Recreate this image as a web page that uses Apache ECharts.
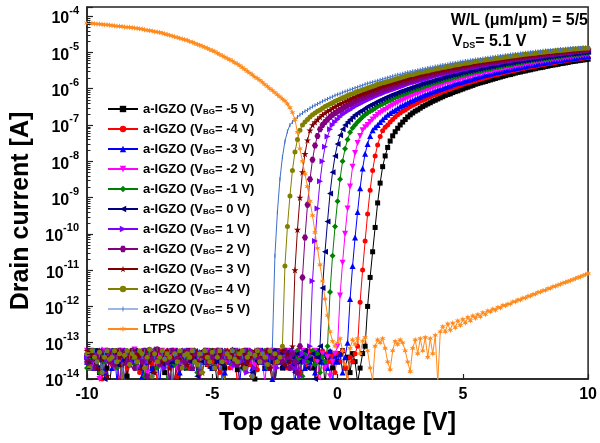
<!DOCTYPE html>
<html>
<head>
<meta charset="utf-8">
<script src="https://cdn.jsdelivr.net/npm/echarts@6/dist/echarts.min.js"></script>
<style>
html, body { margin: 0; padding: 0; background: #fff; }
#chart { width: 600px; height: 443px; }
</style>
</head>
<body>
<div id="chart"></div>
<script>
// top gate voltage sweep: -10 V .. 10 V, 0.1 V step
const vgs = [];
for (let i = 0; i <= 200; i++) vgs.push(Math.round((-10 + i * 0.1) * 10) / 10);

// drain current [A], one value per gate voltage step
const idBgM5 = [
  4e-14,2e-14,5e-14,3e-14,6e-14,1.5e-14,4e-14,5e-14,2e-14,7e-15,
  3e-14,6e-14,4e-14,2.5e-14,5e-14,3e-14,1.2e-14,4.5e-14,6e-14,3e-14,
  2e-14,5e-14,4e-14,8e-15,3.5e-14,5.5e-14,2e-14,4e-14,6.5e-14,3e-14,
  4e-14,1.5e-14,5e-14,3e-14,6e-14,2.5e-14,4e-14,9e-15,5e-14,3.5e-14,
  2e-14,6e-14,4e-14,3e-14,5e-14,1.5e-14,4.5e-14,5.5e-14,2.5e-14,4e-14,
  6e-14,3e-14,7e-15,5e-14,4e-14,2e-14,5.5e-14,3e-14,6e-14,4e-14,
  1.8e-14,5e-14,3.5e-14,6e-14,2.5e-14,4e-14,5e-14,1e-14,3e-14,6e-14,
  4e-14,2e-14,5e-14,3.5e-14,8e-15,4.5e-14,6e-14,3e-14,2e-14,5e-14,
  4e-14,6e-14,2.5e-14,5e-14,3e-14,1.5e-14,4e-14,6e-14,3.5e-14,5e-14,
  2e-14,4e-14,6e-14,3e-14,5e-14,7e-15,4e-14,5.5e-14,2e-14,4e-14,
  3e-14,5e-14,6e-14,2e-14,4e-14,1.5e-14,5e-14,3e-14,8e-15,2e-14,5e-14,
  8e-14,1e-12,6.3e-12,3.2e-11,1.5e-10,7.1e-10,2.5e-9,7.1e-9,1.4e-8,2.4e-8,3.6e-8,5e-8,6.5e-8,8.1e-8,
  1e-7,1.2e-7,1.41e-7,1.66e-7,1.9e-7,2.14e-7,2.4e-7,2.6e-7,2.9e-7,3.2e-7,
  3.5e-7,3.8e-7,4.1e-7,4.5e-7,4.8e-7,5.2e-7,5.6e-7,6e-7,6.5e-7,6.9e-7,
  7.2e-7,7.8e-7,8.3e-7,8.7e-7,9.3e-7,9.8e-7,1.05e-6,1.1e-6,1.17e-6,1.23e-6,
  1.32e-6,1.38e-6,1.45e-6,1.51e-6,1.58e-6,1.66e-6,1.74e-6,1.82e-6,1.91e-6,2e-6,
  2.09e-6,2.19e-6,2.29e-6,2.4e-6,2.45e-6,2.57e-6,2.69e-6,2.82e-6,2.88e-6,3.02e-6,
  3.09e-6,3.24e-6,3.31e-6,3.47e-6,3.55e-6,3.72e-6,3.8e-6,3.89e-6,4.07e-6,4.17e-6,
  4.37e-6,4.47e-6,4.57e-6,4.68e-6,4.9e-6,5e-6,5.13e-6,5.25e-6,5.5e-6,5.62e-6,
  5.75e-6,5.89e-6,6.03e-6,6.17e-6,6.31e-6,6.46e-6
];
const idBgM4 = [
  5e-14,3e-14,6e-14,2e-14,4e-14,5.5e-14,1e-14,3.5e-14,6e-14,4e-14,
  2.5e-14,5e-14,3e-14,7e-15,4.5e-14,6e-14,2e-14,4e-14,5e-14,3e-14,
  6e-14,1.5e-14,4e-14,5e-14,3e-14,6.5e-14,2.5e-14,4e-14,8e-15,5e-14,
  3e-14,4.5e-14,6e-14,2e-14,5e-14,3.5e-14,1.2e-14,4e-14,6e-14,3e-14,
  5e-14,2e-14,4e-14,6e-14,3e-14,9e-15,5e-14,4e-14,2.5e-14,5.5e-14,
  3e-14,6e-14,4e-14,1.5e-14,5e-14,3e-14,6e-14,2e-14,4.5e-14,5e-14,
  7e-15,4e-14,6e-14,3e-14,5e-14,2.5e-14,4e-14,5.5e-14,1.8e-14,3.5e-14,
  6e-14,4e-14,2e-14,5e-14,3e-14,8e-15,4.5e-14,6e-14,3e-14,5e-14,
  2e-14,4e-14,5.5e-14,3e-14,6e-14,1.5e-14,4e-14,5e-14,2.5e-14,6e-14,
  3.5e-14,5e-14,7e-15,4e-14,6e-14,2e-14,5e-14,3e-14,4.5e-14,1.5e-14,
  5e-14,3e-14,6e-14,2e-14,9e-15,4e-14,3e-14,5e-14,
  8e-14,1.3e-12,1e-11,6.3e-11,3.5e-10,1.6e-9,5.6e-9,1.4e-8,2.8e-8,4.8e-8,6.9e-8,8.7e-8,
  1e-7,1.2e-7,1.41e-7,1.66e-7,1.9e-7,2.14e-7,2.4e-7,2.6e-7,2.9e-7,3.2e-7,
  3.5e-7,3.8e-7,4.1e-7,4.5e-7,4.8e-7,5.2e-7,5.6e-7,6e-7,6.5e-7,6.9e-7,
  7.2e-7,7.8e-7,8.3e-7,8.7e-7,9.3e-7,9.8e-7,1.05e-6,1.1e-6,1.17e-6,1.23e-6,
  1.32e-6,1.38e-6,1.45e-6,1.51e-6,1.58e-6,1.66e-6,1.74e-6,1.82e-6,1.91e-6,2e-6,
  2.09e-6,2.19e-6,2.29e-6,2.4e-6,2.45e-6,2.57e-6,2.69e-6,2.82e-6,2.88e-6,3.02e-6,
  3.09e-6,3.24e-6,3.31e-6,3.47e-6,3.55e-6,3.72e-6,3.8e-6,3.89e-6,4.07e-6,4.17e-6,
  4.37e-6,4.47e-6,4.57e-6,4.68e-6,4.9e-6,5e-6,5.13e-6,5.25e-6,5.5e-6,5.62e-6,
  5.75e-6,5.89e-6,6.03e-6,6.17e-6,6.31e-6,6.46e-6,6.61e-6,6.76e-6,6.92e-6,7.08e-6,
  7.24e-6
];
const idBgM3 = [
  3e-14,6e-14,4e-14,2e-14,5e-14,3.5e-14,6.5e-14,1.5e-14,4e-14,5e-14,
  2e-14,4.5e-14,8e-15,5.5e-14,3e-14,6e-14,4e-14,2.5e-14,5e-14,3e-14,
  6e-14,4e-14,1.2e-14,5e-14,3e-14,6e-14,2e-14,4e-14,5.5e-14,7e-15,
  4e-14,5e-14,3e-14,6e-14,2.5e-14,4.5e-14,5e-14,1.5e-14,3.5e-14,6e-14,
  3e-14,5e-14,2e-14,4e-14,6e-14,9e-15,5e-14,3e-14,4e-14,6e-14,
  2e-14,5.5e-14,3.5e-14,6e-14,4e-14,1.5e-14,5e-14,3e-14,6.5e-14,2.5e-14,
  4e-14,8e-15,5e-14,3e-14,6e-14,4.5e-14,2e-14,5e-14,4e-14,3e-14,
  6e-14,2e-14,5e-14,3.5e-14,1e-14,4e-14,6e-14,3e-14,5e-14,2.5e-14,
  4e-14,5.5e-14,3e-14,7e-15,5e-14,4e-14,6e-14,2e-14,4.5e-14,3e-14,
  5e-14,1.5e-14,6e-14,4e-14,3e-14,5e-14,2e-14,6e-14,8e-15,4e-14,
  3e-14,5e-14,1.5e-14,4e-14,
  1e-13,1.6e-12,1.3e-11,7.9e-11,4e-10,1.8e-9,6.3e-9,1.6e-8,3e-8,5e-8,7.1e-8,8.7e-8,
  1e-7,1.2e-7,1.41e-7,1.66e-7,1.9e-7,2.14e-7,2.4e-7,2.6e-7,2.9e-7,3.2e-7,
  3.5e-7,3.8e-7,4.1e-7,4.5e-7,4.8e-7,5.2e-7,5.6e-7,6e-7,6.5e-7,6.9e-7,
  7.2e-7,7.8e-7,8.3e-7,8.7e-7,9.3e-7,9.8e-7,1.05e-6,1.1e-6,1.17e-6,1.23e-6,
  1.32e-6,1.38e-6,1.45e-6,1.51e-6,1.58e-6,1.66e-6,1.74e-6,1.82e-6,1.91e-6,2e-6,
  2.09e-6,2.19e-6,2.29e-6,2.4e-6,2.45e-6,2.57e-6,2.69e-6,2.82e-6,2.88e-6,3.02e-6,
  3.09e-6,3.24e-6,3.31e-6,3.47e-6,3.55e-6,3.72e-6,3.8e-6,3.89e-6,4.07e-6,4.17e-6,
  4.37e-6,4.47e-6,4.57e-6,4.68e-6,4.9e-6,5e-6,5.13e-6,5.25e-6,5.5e-6,5.62e-6,
  5.75e-6,5.89e-6,6.03e-6,6.17e-6,6.31e-6,6.46e-6,6.61e-6,6.76e-6,6.92e-6,7.08e-6,
  7.24e-6,7.41e-6,7.59e-6,7.76e-6,7.94e-6
];
const idBgM2 = [
  6e-14,4e-14,2.5e-14,5e-14,3e-14,1e-14,4.5e-14,6e-14,3e-14,5e-14,
  4e-14,2e-14,5.5e-14,3.5e-14,6e-14,8e-15,4e-14,5e-14,3e-14,6.5e-14,
  2e-14,4e-14,5e-14,3e-14,1.5e-14,6e-14,4e-14,5e-14,2.5e-14,4.5e-14,
  6e-14,3e-14,5e-14,7e-15,4e-14,6e-14,2e-14,5.5e-14,3e-14,4e-14,
  5e-14,2.5e-14,6e-14,4e-14,3.5e-14,1.2e-14,5e-14,3e-14,6e-14,4e-14,
  2e-14,5e-14,4e-14,6e-14,9e-15,3e-14,5.5e-14,4.5e-14,2e-14,6e-14,
  3.5e-14,5e-14,4e-14,1.5e-14,6e-14,3e-14,5e-14,2.5e-14,4e-14,6e-14,
  3e-14,8e-15,5e-14,4e-14,6e-14,2e-14,4.5e-14,5.5e-14,3e-14,4e-14,
  6e-14,2.5e-14,5e-14,3e-14,1.5e-14,4e-14,6e-14,3.5e-14,5e-14,2e-14,
  4e-14,6e-14,3e-14,7e-15,5e-14,2e-14,4e-14,1.2e-14,3e-14,5e-14,
  8e-14,2e-12,1.6e-11,1e-10,5e-10,2e-9,7.1e-9,1.7e-8,3.2e-8,5e-8,7.1e-8,8.7e-8,
  1e-7,1.2e-7,1.41e-7,1.66e-7,1.9e-7,2.14e-7,2.4e-7,2.6e-7,2.9e-7,3.2e-7,
  3.5e-7,3.8e-7,4.1e-7,4.5e-7,4.8e-7,5.2e-7,5.6e-7,6e-7,6.5e-7,6.9e-7,
  7.2e-7,7.8e-7,8.3e-7,8.7e-7,9.3e-7,9.8e-7,1.05e-6,1.1e-6,1.17e-6,1.23e-6,
  1.32e-6,1.38e-6,1.45e-6,1.51e-6,1.58e-6,1.66e-6,1.74e-6,1.82e-6,1.91e-6,2e-6,
  2.09e-6,2.19e-6,2.29e-6,2.4e-6,2.45e-6,2.57e-6,2.69e-6,2.82e-6,2.88e-6,3.02e-6,
  3.09e-6,3.24e-6,3.31e-6,3.47e-6,3.55e-6,3.72e-6,3.8e-6,3.89e-6,4.07e-6,4.17e-6,
  4.37e-6,4.47e-6,4.57e-6,4.68e-6,4.9e-6,5e-6,5.13e-6,5.25e-6,5.5e-6,5.62e-6,
  5.75e-6,5.89e-6,6.03e-6,6.17e-6,6.31e-6,6.46e-6,6.61e-6,6.76e-6,6.92e-6,7.08e-6,
  7.24e-6,7.41e-6,7.59e-6,7.76e-6,7.94e-6,8.13e-6,8.32e-6,8.5e-6,8.7e-6
];
const idBgM1 = [
  2e-14,5e-14,3.5e-14,6e-14,4e-14,1.5e-14,5e-14,3e-14,6e-14,4.5e-14,
  3e-14,5.5e-14,2e-14,4e-14,7e-15,5e-14,6e-14,3e-14,4e-14,2.5e-14,
  5e-14,4e-14,6e-14,1.2e-14,3e-14,5e-14,4e-14,6.5e-14,2e-14,4e-14,
  5e-14,3e-14,8e-15,6e-14,4e-14,2.5e-14,5e-14,3.5e-14,6e-14,2e-14,
  4e-14,5e-14,3e-14,6e-14,1.5e-14,4.5e-14,5.5e-14,3e-14,4e-14,6e-14,
  2e-14,5e-14,4e-14,3e-14,9e-15,6e-14,4e-14,5e-14,2.5e-14,3.5e-14,
  6e-14,4e-14,2e-14,5e-14,3e-14,6e-14,1.5e-14,4e-14,5e-14,3e-14,
  4.5e-14,6e-14,2e-14,5e-14,4e-14,7e-15,3e-14,5.5e-14,4e-14,6e-14,
  3e-14,2e-14,5e-14,4e-14,6e-14,3.5e-14,1.2e-14,5e-14,3e-14,4e-14,
  6e-14,2.5e-14,5e-14,1.5e-14,4e-14,3e-14,
  8e-14,2.5e-12,2.5e-11,1.6e-10,7.9e-10,3.2e-9,1e-8,2.2e-8,4e-8,6.3e-8,8.3e-8,
  1e-7,1.2e-7,1.41e-7,1.66e-7,1.9e-7,2.14e-7,2.4e-7,2.6e-7,2.9e-7,3.2e-7,
  3.5e-7,3.8e-7,4.1e-7,4.5e-7,4.8e-7,5.2e-7,5.6e-7,6e-7,6.5e-7,6.9e-7,
  7.2e-7,7.8e-7,8.3e-7,8.7e-7,9.3e-7,9.8e-7,1.05e-6,1.1e-6,1.17e-6,1.23e-6,
  1.32e-6,1.38e-6,1.45e-6,1.51e-6,1.58e-6,1.66e-6,1.74e-6,1.82e-6,1.91e-6,2e-6,
  2.09e-6,2.19e-6,2.29e-6,2.4e-6,2.45e-6,2.57e-6,2.69e-6,2.82e-6,2.88e-6,3.02e-6,
  3.09e-6,3.24e-6,3.31e-6,3.47e-6,3.55e-6,3.72e-6,3.8e-6,3.89e-6,4.07e-6,4.17e-6,
  4.37e-6,4.47e-6,4.57e-6,4.68e-6,4.9e-6,5e-6,5.13e-6,5.25e-6,5.5e-6,5.62e-6,
  5.75e-6,5.89e-6,6.03e-6,6.17e-6,6.31e-6,6.46e-6,6.61e-6,6.76e-6,6.92e-6,7.08e-6,
  7.24e-6,7.41e-6,7.59e-6,7.76e-6,7.94e-6,8.13e-6,8.32e-6,8.5e-6,8.7e-6,8.9e-6,
  9e-6,9.1e-6,9.3e-6,9.5e-6
];
const idBg0 = [
  5e-14,3e-14,4e-14,6e-14,2e-14,5.5e-14,3.5e-14,1e-14,4e-14,6e-14,
  3e-14,5e-14,2.5e-14,4.5e-14,6e-14,8e-15,4e-14,5e-14,3e-14,6e-14,
  4e-14,2e-14,5e-14,3e-14,6.5e-14,4e-14,1.5e-14,5e-14,3.5e-14,6e-14,
  2.5e-14,4e-14,5e-14,7e-15,3e-14,6e-14,4e-14,5e-14,2e-14,4.5e-14,
  6e-14,3e-14,5e-14,4e-14,1.2e-14,5.5e-14,3e-14,6e-14,4e-14,2e-14,
  5e-14,4e-14,3e-14,6e-14,2.5e-14,9e-15,5e-14,4e-14,6e-14,3e-14,
  4e-14,5e-14,2e-14,6e-14,3.5e-14,4.5e-14,1.5e-14,5e-14,3e-14,6e-14,
  4e-14,2.5e-14,5e-14,3e-14,6e-14,8e-15,4e-14,5.5e-14,2e-14,5e-14,
  3e-14,6e-14,4e-14,1.5e-14,5e-14,3e-14,4e-14,6e-14,2e-14,3.5e-14,
  5e-14,1e-14,4e-14,
  8e-14,3.2e-12,3.2e-11,2.2e-10,1.3e-9,5e-9,1.4e-8,3e-8,5.2e-8,7.6e-8,
  1e-7,1.2e-7,1.41e-7,1.66e-7,1.9e-7,2.14e-7,2.4e-7,2.6e-7,2.9e-7,3.2e-7,
  3.5e-7,3.8e-7,4.1e-7,4.5e-7,4.8e-7,5.2e-7,5.6e-7,6e-7,6.5e-7,6.9e-7,
  7.2e-7,7.8e-7,8.3e-7,8.7e-7,9.3e-7,9.8e-7,1.05e-6,1.1e-6,1.17e-6,1.23e-6,
  1.32e-6,1.38e-6,1.45e-6,1.51e-6,1.58e-6,1.66e-6,1.74e-6,1.82e-6,1.91e-6,2e-6,
  2.09e-6,2.19e-6,2.29e-6,2.4e-6,2.45e-6,2.57e-6,2.69e-6,2.82e-6,2.88e-6,3.02e-6,
  3.09e-6,3.24e-6,3.31e-6,3.47e-6,3.55e-6,3.72e-6,3.8e-6,3.89e-6,4.07e-6,4.17e-6,
  4.37e-6,4.47e-6,4.57e-6,4.68e-6,4.9e-6,5e-6,5.13e-6,5.25e-6,5.5e-6,5.62e-6,
  5.75e-6,5.89e-6,6.03e-6,6.17e-6,6.31e-6,6.46e-6,6.61e-6,6.76e-6,6.92e-6,7.08e-6,
  7.24e-6,7.41e-6,7.59e-6,7.76e-6,7.94e-6,8.13e-6,8.32e-6,8.5e-6,8.7e-6,8.9e-6,
  9e-6,9.1e-6,9.3e-6,9.5e-6,9.77e-6,9.9e-6,1e-5,1.02e-5
];
const idBgP1 = [
  4e-14,6e-14,3e-14,5e-14,2e-14,4.5e-14,6e-14,1.5e-14,3.5e-14,5e-14,
  6e-14,3e-14,4e-14,8e-15,5e-14,2.5e-14,6e-14,4e-14,3e-14,5.5e-14,
  2e-14,5e-14,4e-14,6e-14,3e-14,1.2e-14,5e-14,4e-14,6.5e-14,3e-14,
  5e-14,2e-14,4.5e-14,6e-14,3.5e-14,7e-15,5e-14,4e-14,3e-14,6e-14,
  2.5e-14,5e-14,4e-14,6e-14,3e-14,5e-14,1.5e-14,4e-14,6e-14,3e-14,
  5e-14,4e-14,2e-14,5.5e-14,9e-15,4e-14,6e-14,3e-14,5e-14,2.5e-14,
  4e-14,6e-14,3e-14,5e-14,1.5e-14,4.5e-14,6e-14,2e-14,5e-14,3.5e-14,
  6e-14,3e-14,5e-14,4e-14,8e-15,5e-14,2e-14,6e-14,4e-14,3e-14,
  5e-14,4e-14,6e-14,2e-14,3e-14,1.2e-14,5e-14,3e-14,4e-14,
  8e-14,5e-12,6.3e-11,5e-10,2.8e-9,1e-8,2.5e-8,4.8e-8,7.6e-8,
  1e-7,1.2e-7,1.41e-7,1.66e-7,1.9e-7,2.14e-7,2.4e-7,2.6e-7,2.9e-7,3.2e-7,
  3.5e-7,3.8e-7,4.1e-7,4.5e-7,4.8e-7,5.2e-7,5.6e-7,6e-7,6.5e-7,6.9e-7,
  7.2e-7,7.8e-7,8.3e-7,8.7e-7,9.3e-7,9.8e-7,1.05e-6,1.1e-6,1.17e-6,1.23e-6,
  1.32e-6,1.38e-6,1.45e-6,1.51e-6,1.58e-6,1.66e-6,1.74e-6,1.82e-6,1.91e-6,2e-6,
  2.09e-6,2.19e-6,2.29e-6,2.4e-6,2.45e-6,2.57e-6,2.69e-6,2.82e-6,2.88e-6,3.02e-6,
  3.09e-6,3.24e-6,3.31e-6,3.47e-6,3.55e-6,3.72e-6,3.8e-6,3.89e-6,4.07e-6,4.17e-6,
  4.37e-6,4.47e-6,4.57e-6,4.68e-6,4.9e-6,5e-6,5.13e-6,5.25e-6,5.5e-6,5.62e-6,
  5.75e-6,5.89e-6,6.03e-6,6.17e-6,6.31e-6,6.46e-6,6.61e-6,6.76e-6,6.92e-6,7.08e-6,
  7.24e-6,7.41e-6,7.59e-6,7.76e-6,7.94e-6,8.13e-6,8.32e-6,8.5e-6,8.7e-6,8.9e-6,
  9e-6,9.1e-6,9.3e-6,9.5e-6,9.77e-6,9.9e-6,1e-5,1.02e-5,1.05e-5,1.06e-5,
  1.07e-5,1.1e-5,1.12e-5
];
const idBgP2 = [
  3e-14,5e-14,6e-14,2e-14,4e-14,5.5e-14,1.5e-14,4e-14,6e-14,3e-14,
  5e-14,2.5e-14,4e-14,6e-14,7e-15,5e-14,3e-14,4.5e-14,6e-14,2e-14,
  4e-14,5e-14,3e-14,6e-14,1.2e-14,4e-14,5e-14,3.5e-14,6.5e-14,2.5e-14,
  5e-14,4e-14,3e-14,8e-15,6e-14,4e-14,5e-14,2e-14,5.5e-14,3e-14,
  6e-14,4e-14,2e-14,5e-14,3e-14,1.5e-14,4.5e-14,6e-14,3e-14,5e-14,
  4e-14,2e-14,6e-14,5e-14,3.5e-14,9e-15,4e-14,5e-14,6e-14,3e-14,
  2.5e-14,5e-14,4e-14,6e-14,3e-14,5e-14,1.2e-14,4e-14,6e-14,3.5e-14,
  5e-14,3e-14,6e-14,2e-14,4e-14,7e-15,5e-14,4e-14,3e-14,6e-14,
  4e-14,2e-14,5e-14,3e-14,1.5e-14,
  8e-14,6.3e-12,7.9e-11,6.3e-10,3.2e-9,1.1e-8,2.7e-8,5e-8,7.6e-8,
  1e-7,1.2e-7,1.41e-7,1.66e-7,1.9e-7,2.14e-7,2.4e-7,2.6e-7,2.9e-7,3.2e-7,
  3.5e-7,3.8e-7,4.1e-7,4.5e-7,4.8e-7,5.2e-7,5.6e-7,6e-7,6.5e-7,6.9e-7,
  7.2e-7,7.8e-7,8.3e-7,8.7e-7,9.3e-7,9.8e-7,1.05e-6,1.1e-6,1.17e-6,1.23e-6,
  1.32e-6,1.38e-6,1.45e-6,1.51e-6,1.58e-6,1.66e-6,1.74e-6,1.82e-6,1.91e-6,2e-6,
  2.09e-6,2.19e-6,2.29e-6,2.4e-6,2.45e-6,2.57e-6,2.69e-6,2.82e-6,2.88e-6,3.02e-6,
  3.09e-6,3.24e-6,3.31e-6,3.47e-6,3.55e-6,3.72e-6,3.8e-6,3.89e-6,4.07e-6,4.17e-6,
  4.37e-6,4.47e-6,4.57e-6,4.68e-6,4.9e-6,5e-6,5.13e-6,5.25e-6,5.5e-6,5.62e-6,
  5.75e-6,5.89e-6,6.03e-6,6.17e-6,6.31e-6,6.46e-6,6.61e-6,6.76e-6,6.92e-6,7.08e-6,
  7.24e-6,7.41e-6,7.59e-6,7.76e-6,7.94e-6,8.13e-6,8.32e-6,8.5e-6,8.7e-6,8.9e-6,
  9e-6,9.1e-6,9.3e-6,9.5e-6,9.77e-6,9.9e-6,1e-5,1.02e-5,1.05e-5,1.06e-5,
  1.07e-5,1.1e-5,1.12e-5,1.13e-5,1.15e-5,1.17e-5,1.18e-5
];
const idBgP3 = [
  6e-14,3e-14,5e-14,4e-14,2e-14,6e-14,3.5e-14,5e-14,1.2e-14,4e-14,
  5.5e-14,3e-14,6e-14,4e-14,2.5e-14,5e-14,8e-15,4e-14,6e-14,3e-14,
  5e-14,4.5e-14,2e-14,6e-14,4e-14,3e-14,5e-14,1.5e-14,6.5e-14,4e-14,
  3e-14,5e-14,6e-14,2e-14,4e-14,7e-15,5e-14,3.5e-14,6e-14,4e-14,
  2.5e-14,5e-14,4e-14,6e-14,3e-14,5.5e-14,1.5e-14,4e-14,5e-14,3e-14,
  6e-14,2e-14,4.5e-14,5e-14,3e-14,9e-15,6e-14,4e-14,5e-14,3.5e-14,
  4e-14,6e-14,2.5e-14,5e-14,3e-14,4e-14,1.2e-14,6e-14,5e-14,3e-14,
  5e-14,4e-14,6e-14,2e-14,8e-15,5e-14,3e-14,4e-14,6e-14,2.5e-14,
  5e-14,3e-14,
  8e-14,1e-11,1.3e-10,1e-9,5e-9,1.6e-8,3.8e-8,7.1e-8,
  1e-7,1.2e-7,1.41e-7,1.66e-7,1.9e-7,2.14e-7,2.4e-7,2.6e-7,2.9e-7,3.2e-7,
  3.5e-7,3.8e-7,4.1e-7,4.5e-7,4.8e-7,5.2e-7,5.6e-7,6e-7,6.5e-7,6.9e-7,
  7.2e-7,7.8e-7,8.3e-7,8.7e-7,9.3e-7,9.8e-7,1.05e-6,1.1e-6,1.17e-6,1.23e-6,
  1.32e-6,1.38e-6,1.45e-6,1.51e-6,1.58e-6,1.66e-6,1.74e-6,1.82e-6,1.91e-6,2e-6,
  2.09e-6,2.19e-6,2.29e-6,2.4e-6,2.45e-6,2.57e-6,2.69e-6,2.82e-6,2.88e-6,3.02e-6,
  3.09e-6,3.24e-6,3.31e-6,3.47e-6,3.55e-6,3.72e-6,3.8e-6,3.89e-6,4.07e-6,4.17e-6,
  4.37e-6,4.47e-6,4.57e-6,4.68e-6,4.9e-6,5e-6,5.13e-6,5.25e-6,5.5e-6,5.62e-6,
  5.75e-6,5.89e-6,6.03e-6,6.17e-6,6.31e-6,6.46e-6,6.61e-6,6.76e-6,6.92e-6,7.08e-6,
  7.24e-6,7.41e-6,7.59e-6,7.76e-6,7.94e-6,8.13e-6,8.32e-6,8.5e-6,8.7e-6,8.9e-6,
  9e-6,9.1e-6,9.3e-6,9.5e-6,9.77e-6,9.9e-6,1e-5,1.02e-5,1.05e-5,1.06e-5,
  1.07e-5,1.1e-5,1.12e-5,1.13e-5,1.15e-5,1.17e-5,1.18e-5,1.2e-5,1.23e-5,1.24e-5,
  1.26e-5
];
const idBgP4 = [
  5e-14,2e-14,6e-14,4e-14,3e-14,5.5e-14,1.5e-14,4e-14,6e-14,3.5e-14,
  4e-14,6e-14,3e-14,5e-14,8e-15,4.5e-14,6e-14,2.5e-14,5e-14,4e-14,
  3e-14,6e-14,5e-14,2e-14,4e-14,6.5e-14,1.2e-14,5e-14,3e-14,4e-14,
  6e-14,3.5e-14,5e-14,4e-14,7e-15,5e-14,3e-14,6e-14,2e-14,4.5e-14,
  5e-14,4e-14,6e-14,3e-14,2.5e-14,5e-14,1.5e-14,6e-14,4e-14,3e-14,
  5.5e-14,2e-14,4e-14,6e-14,3e-14,9e-15,5e-14,4e-14,6e-14,3.5e-14,
  3e-14,5e-14,6e-14,2e-14,4e-14,5e-14,1.2e-14,4.5e-14,6e-14,3e-14,
  5e-14,4e-14,2.5e-14,6e-14,8e-15,5e-14,3e-14,4e-14,
  8e-14,1.3e-11,1.6e-10,1.1e-9,5.6e-9,1.8e-8,4e-8,7.2e-8,
  1e-7,1.2e-7,1.41e-7,1.66e-7,1.9e-7,2.14e-7,2.4e-7,2.6e-7,2.9e-7,3.2e-7,
  3.5e-7,3.8e-7,4.1e-7,4.5e-7,4.8e-7,5.2e-7,5.6e-7,6e-7,6.5e-7,6.9e-7,
  7.2e-7,7.8e-7,8.3e-7,8.7e-7,9.3e-7,9.8e-7,1.05e-6,1.1e-6,1.17e-6,1.23e-6,
  1.32e-6,1.38e-6,1.45e-6,1.51e-6,1.58e-6,1.66e-6,1.74e-6,1.82e-6,1.91e-6,2e-6,
  2.09e-6,2.19e-6,2.29e-6,2.4e-6,2.45e-6,2.57e-6,2.69e-6,2.82e-6,2.88e-6,3.02e-6,
  3.09e-6,3.24e-6,3.31e-6,3.47e-6,3.55e-6,3.72e-6,3.8e-6,3.89e-6,4.07e-6,4.17e-6,
  4.37e-6,4.47e-6,4.57e-6,4.68e-6,4.9e-6,5e-6,5.13e-6,5.25e-6,5.5e-6,5.62e-6,
  5.75e-6,5.89e-6,6.03e-6,6.17e-6,6.31e-6,6.46e-6,6.61e-6,6.76e-6,6.92e-6,7.08e-6,
  7.24e-6,7.41e-6,7.59e-6,7.76e-6,7.94e-6,8.13e-6,8.32e-6,8.5e-6,8.7e-6,8.9e-6,
  9e-6,9.1e-6,9.3e-6,9.5e-6,9.77e-6,9.9e-6,1e-5,1.02e-5,1.05e-5,1.06e-5,
  1.07e-5,1.1e-5,1.12e-5,1.13e-5,1.15e-5,1.17e-5,1.18e-5,1.2e-5,1.23e-5,1.24e-5,
  1.26e-5,1.27e-5,1.29e-5,1.3e-5,1.32e-5
];
const idBgP5 = [
  4e-14,5e-14,2e-14,6e-14,3e-14,4.5e-14,1.5e-14,5e-14,6e-14,3.5e-14,
  5e-14,3e-14,4e-14,6e-14,2.5e-14,8e-15,5e-14,4e-14,6e-14,3e-14,
  2e-14,5.5e-14,4e-14,6e-14,3e-14,5e-14,1.2e-14,4e-14,6.5e-14,3e-14,
  5e-14,4e-14,2e-14,6e-14,7e-15,4.5e-14,5e-14,3e-14,6e-14,4e-14,
  3.5e-14,5e-14,2.5e-14,6e-14,4e-14,1.5e-14,5e-14,3e-14,6e-14,4e-14,
  2e-14,6e-14,5e-14,3e-14,9e-15,4e-14,5.5e-14,3e-14,6e-14,4.5e-14,
  5e-14,3e-14,4e-14,6e-14,2e-14,5e-14,1.2e-14,4e-14,6e-14,3e-14,
  5e-14,2.5e-14,4e-14,3e-14,
  8e-14,2.5e-11,4e-10,3.2e-9,1.3e-8,3.5e-8,6.6e-8,
  1e-7,1.2e-7,1.41e-7,1.66e-7,1.9e-7,2.14e-7,2.4e-7,2.6e-7,2.9e-7,3.2e-7,
  3.5e-7,3.8e-7,4.1e-7,4.5e-7,4.8e-7,5.2e-7,5.6e-7,6e-7,6.5e-7,6.9e-7,
  7.2e-7,7.8e-7,8.3e-7,8.7e-7,9.3e-7,9.8e-7,1.05e-6,1.1e-6,1.17e-6,1.23e-6,
  1.32e-6,1.38e-6,1.45e-6,1.51e-6,1.58e-6,1.66e-6,1.74e-6,1.82e-6,1.91e-6,2e-6,
  2.09e-6,2.19e-6,2.29e-6,2.4e-6,2.45e-6,2.57e-6,2.69e-6,2.82e-6,2.88e-6,3.02e-6,
  3.09e-6,3.24e-6,3.31e-6,3.47e-6,3.55e-6,3.72e-6,3.8e-6,3.89e-6,4.07e-6,4.17e-6,
  4.37e-6,4.47e-6,4.57e-6,4.68e-6,4.9e-6,5e-6,5.13e-6,5.25e-6,5.5e-6,5.62e-6,
  5.75e-6,5.89e-6,6.03e-6,6.17e-6,6.31e-6,6.46e-6,6.61e-6,6.76e-6,6.92e-6,7.08e-6,
  7.24e-6,7.41e-6,7.59e-6,7.76e-6,7.94e-6,8.13e-6,8.32e-6,8.5e-6,8.7e-6,8.9e-6,
  9e-6,9.1e-6,9.3e-6,9.5e-6,9.77e-6,9.9e-6,1e-5,1.02e-5,1.05e-5,1.06e-5,
  1.07e-5,1.1e-5,1.12e-5,1.13e-5,1.15e-5,1.17e-5,1.18e-5,1.2e-5,1.23e-5,1.24e-5,
  1.26e-5,1.27e-5,1.29e-5,1.3e-5,1.32e-5,1.33e-5,1.35e-5,1.36e-5,1.37e-5,1.38e-5
];
const idLtps = [
  6.46e-5,6.31e-5,6.31e-5,6.17e-5,6.03e-5,6.03e-5,5.89e-5,5.75e-5,5.75e-5,5.62e-5,
  5.5e-5,5.37e-5,5.25e-5,5.25e-5,5.13e-5,5e-5,4.9e-5,4.9e-5,4.79e-5,4.68e-5,
  4.57e-5,4.47e-5,4.37e-5,4.17e-5,4.07e-5,3.98e-5,3.89e-5,3.72e-5,3.63e-5,3.55e-5,
  3.39e-5,3.24e-5,3.09e-5,2.95e-5,2.82e-5,2.69e-5,2.57e-5,2.45e-5,2.34e-5,2.24e-5,
  2.14e-5,2e-5,1.91e-5,1.78e-5,1.66e-5,1.58e-5,1.48e-5,1.38e-5,1.29e-5,1.2e-5,
  1.12e-5,1.05e-5,9.5e-6,8.7e-6,8.1e-6,7.4e-6,6.8e-6,6.3e-6,5.8e-6,5.2e-6,
  4.8e-6,4.3e-6,3.8e-6,3.4e-6,3e-6,2.7e-6,2.4e-6,2.1e-6,1.9e-6,1.7e-6,
  1.5e-6,1.3e-6,1.15e-6,1e-6,8.9e-7,7.8e-7,6.8e-7,6e-7,5.2e-7,4.6e-7,
  3.8e-7,3e-7,2.2e-7,1.4e-7,6.3e-8,2.2e-8,1e-8,4.5e-9,2e-9,7.9e-10,
  3.2e-10,1.1e-10,4e-11,1.4e-11,5e-12,1.6e-12,5.6e-13,2e-13,1.1e-13,8e-14,
  1e-13,1.3e-13,6e-14,2.5e-14,8e-15,7e-14,1.2e-13,9e-14,1.3e-13,5e-14,
  1.1e-13,1.4e-13,6e-14,2e-14,9e-15,8e-14,1.2e-13,1e-13,1.3e-13,7e-14,
  3e-14,1.8e-14,6e-14,1.1e-13,9e-14,1.2e-13,1e-13,6e-14,3e-14,1.6e-14,
  7e-14,1.2e-13,5e-14,1.3e-13,6e-14,1.4e-13,4e-14,1.3e-13,5e-14,1.6e-13,
  8e-15,2e-13,
  2.8e-13,2e-13,3.3e-13,2.2e-13,3.5e-13,2.6e-13,4e-13,3e-13,4.4e-13,3.5e-13,
  5e-13,4e-13,5.5e-13,4.7e-13,6e-13,5.2e-13,6.8e-13,6e-13,7.6e-13,7.1e-13,
  8.5e-13,7.9e-13,9.5e-13,9.1e-13,1.07e-12,1.05e-12,1.17e-12,1.17e-12,1.35e-12,1.35e-12,
  1.51e-12,1.51e-12,1.7e-12,1.7e-12,1.9e-12,1.95e-12,2.14e-12,2.19e-12,2.45e-12,2.5e-12,
  2.75e-12,2.8e-12,3.1e-12,3.16e-12,3.5e-12,3.6e-12,3.9e-12,4.1e-12,4.4e-12,4.6e-12,
  4.9e-12,5.2e-12,5.5e-12,5.9e-12,6.3e-12,6.6e-12,7.1e-12,7.6e-12,8.1e-12
];

const seriesNames = [
  'a-IGZO (VBG= -5 V)', 'a-IGZO (VBG= -4 V)', 'a-IGZO (VBG= -3 V)', 'a-IGZO (VBG= -2 V)',
  'a-IGZO (VBG= -1 V)', 'a-IGZO (VBG= 0 V)', 'a-IGZO (VBG= 1 V)', 'a-IGZO (VBG= 2 V)',
  'a-IGZO (VBG= 3 V)', 'a-IGZO (VBG= 4 V)', 'a-IGZO (VBG= 5 V)', 'LTPS'
];
const seriesValues = [idBgM5, idBgM4, idBgM3, idBgM2, idBgM1, idBg0, idBgP1, idBgP2, idBgP3, idBgP4, idBgP5, idLtps];
const yTicks = [-14, -13, -12, -11, -10, -9, -8, -7, -6, -5, -4];
const xTicks = [-10, -5, 0, 5, 10];

const FONT = '"Liberation Sans", Arial, sans-serif';
const colors = ['#000000', '#ff0000', '#0000ff', '#ff00ff', '#008000', '#000080',
  '#8000ff', '#800080', '#800000', '#808000', '#3f6fc8', '#ff8a1c'];
const HEX = 'path://M1,0L0.5,0.866L-0.5,0.866L-1,0L-0.5,-0.866L0.5,-0.866Z';
const STAR = 'path://M0,-1L0.2245,-0.309L0.951,-0.309L0.363,0.118L0.588,0.809L0,0.382L-0.588,0.809L-0.363,0.118L-0.951,-0.309L-0.2245,-0.309Z';
const ASTER = 'path://M0,-1L0.2,-0.35L0.87,-0.5L0.4,0L0.87,0.5L0.2,0.35L0,1L-0.2,0.35L-0.87,0.5L-0.4,0L-0.87,-0.5L-0.2,-0.35Z';
const BAR = 'path://M0,0L1,0L1,10L0,10Z';
const symbols = ['rect', 'circle', 'triangle', 'triangle', 'diamond', 'triangle',
  'triangle', HEX, STAR, 'circle', BAR, ASTER];
const symbolRot = [0, 0, 0, 180, 0, 90, -90, 0, 0, 0, 0, 0];
const symbolSizes = [5, 5, 6, 6, 6, 6, 6, 6, 7, 5, [1, 4], 6];

// minor ticks of the log axis (2..9 x 10^n)
const minorTicks = [];
for (let d = -14; d < -4; d++) {
  for (let m = 2; m <= 9; m++) minorTicks.push(d + Math.log10(m));
}

const bad = [];
const series = seriesNames.map((name, k) => {
  const vals = seriesValues[k];
  if (vals.length !== vgs.length) bad.push(name + ':' + vals.length);
  return {
    name: name,
    type: 'line',
    data: vals.map((cur, i) => [vgs[i], Math.log10(cur)]),
    symbol: symbols[k],
    symbolSize: symbolSizes[k],
    symbolRotate: symbolRot[k],
    symbolKeepAspect: false,
    showAllSymbol: true,
    clip: true,
    lineStyle: { width: 1, color: colors[k] },
    itemStyle: { color: colors[k], borderWidth: 0 },
    emphasis: { disabled: true },
    animation: false
  };
});

// legend entries; the VBG = 5 V trace uses a thin line with a small tick mark
const legendData = seriesNames.map((n, k) => (k === 10
  ? { name: n, icon: 'path://M0,3.6H30V4.4H0ZM14.6,1.5H15.4V6.5H14.6Z' }
  : { name: n }));

const textGraphics = [
  { type: 'text', x: 21, y: 211, rotation: Math.PI / 2,
    style: { text: 'Drain current [A]', font: 'bold 25px ' + FONT, fill: '#000', align: 'center', verticalAlign: 'middle' } },
  { type: 'text', right: 12, top: 13,
    style: { text: 'W/L (\u03bcm/\u03bcm) = 5/5', font: 'bold 16px ' + FONT, fill: '#000' } },
  { type: 'text', left: 452, top: 34,
    style: {
      text: '{v|V}{s|DS}{v|= 5.1 V}',
      rich: {
        v: { fontFamily: FONT, fontSize: 16, fontWeight: 'bold', fill: '#000', verticalAlign: 'bottom', lineHeight: 18 },
        s: { fontFamily: FONT, fontSize: 9, fontWeight: 'bold', fill: '#000', verticalAlign: 'bottom', lineHeight: 12 }
      }
    } }
].concat(bad.length ? [{ type: 'text', left: 100, top: 200, style: { text: bad.join(' '), fill: 'red', font: '12px sans-serif' } }] : []);

const chart = echarts.init(document.getElementById('chart'));
const option = {
  backgroundColor: '#fff',
  animation: false,
  grid: { left: 87, right: 11, top: 7, bottom: 64, show: true, borderColor: '#222', borderWidth: 1.5 },
  xAxis: {
    type: 'value', min: -10, max: 10, interval: 5,
    axisLine: { show: true, onZero: false, lineStyle: { color: '#222', width: 1.5 } },
    axisTick: { inside: true, length: 5, lineStyle: { color: '#222', width: 1.2 } },
    splitLine: { show: false },
    axisLabel: { fontFamily: FONT, fontSize: 16, fontWeight: 'bold', color: '#000', margin: 8,
      formatter: v => (xTicks.indexOf(v) >= 0 ? String(v) : '') },
    name: 'Top gate voltage [V]', nameLocation: 'middle', nameGap: 32,
    nameTextStyle: { fontFamily: FONT, fontSize: 25, fontWeight: 'bold', color: '#000' }
  },
  yAxis: {
    type: 'value', min: -14, max: -3.75, interval: 1, position: 'left',
    axisLine: { show: true, onZero: false, lineStyle: { color: '#222', width: 1.5 } },
    axisTick: { inside: true, length: 6, lineStyle: { color: '#222', width: 1.2 } },
    splitLine: { show: false },
    axisLabel: {
      margin: 8,
      formatter: v => (yTicks.indexOf(v) >= 0 ? '{b|10}{e|' + v + '}' : ''),
      rich: {
        b: { fontFamily: FONT, fontSize: 16, fontWeight: 'bold', color: '#000', verticalAlign: 'bottom', lineHeight: 22 },
        e: { fontFamily: FONT, fontSize: 11, fontWeight: 'bold', color: '#000', verticalAlign: 'top', lineHeight: 12 }
      }
    }
  },
  legend: {
    orient: 'vertical', left: 102, top: 97,
    itemWidth: 30, itemHeight: 8, itemGap: 6,
    data: legendData,
    formatter: n => n.replace('VBG', 'V{s|BG}'),
    textStyle: {
      fontFamily: FONT, fontSize: 13, fontWeight: 'bold', color: '#000', lineHeight: 14,
      rich: { s: { fontFamily: FONT, fontSize: 8, fontWeight: 'bold', color: '#000', verticalAlign: 'bottom', lineHeight: 10 } }
    }
  },
  graphic: textGraphics,
  series: series
};
chart.setOption(option);

// log-style minor ticks on the left axis, placed through the y axis scale
const axisX = chart.convertToPixel({ xAxisIndex: 0 }, -10);
const minorTickLines = minorTicks.map(v => {
  const y = Math.round(chart.convertToPixel({ yAxisIndex: 0 }, v)) + 0.5;
  return { type: 'line', silent: true, z: 50,
    shape: { x1: axisX, y1: y, x2: axisX + 3.5, y2: y },
    style: { stroke: '#222', lineWidth: 1 } };
});
chart.setOption({ graphic: textGraphics.concat(minorTickLines) });
</script>
</body>
</html>
